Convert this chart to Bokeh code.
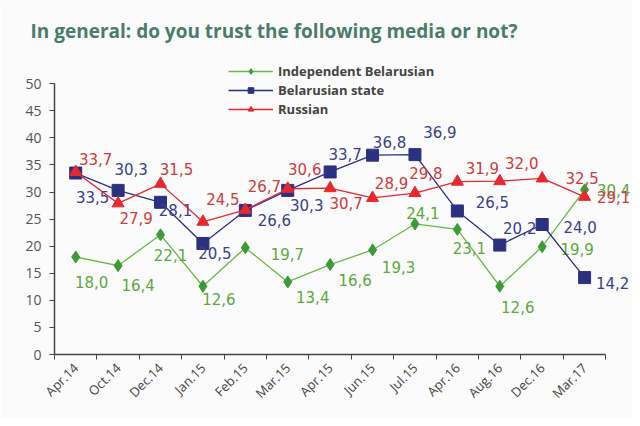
import math
from bokeh.plotting import figure
from bokeh.models import Range1d, FixedTicker, Legend, LegendItem, ColumnDataSource
from bokeh.core.properties import value
from bokeh.embed import file_html
from bokeh.resources import INLINE

categories = ["Apr.14", "Oct.14", "Dec.14", "Jan.15", "Feb.15", "Mar.15", "Apr.15",
              "Jun.15", "Jul.15", "Apr.16", "Aug.16", "Dec.16", "Mar.17"]
independent = [18.0, 16.4, 22.1, 12.6, 19.7, 13.4, 16.6, 19.3, 24.1, 23.1, 12.6, 19.9, 30.4]
state = [33.5, 30.3, 28.1, 20.5, 26.6, 30.3, 33.7, 36.8, 36.9, 26.5, 20.2, 24.0, 14.2]
russian = [33.7, 27.9, 31.5, 24.5, 26.7, 30.6, 30.7, 28.9, 29.8, 31.9, 32.0, 32.5, 29.1]
y_ticks = [0, 5, 10, 15, 20, 25, 30, 35, 40, 45, 50]

# label offsets (screen px, y down) - styling only
off_rus = [(20, -13), (18, 15), (16, -15), (20, -23), (19, -24), (17, -20), (16, 15),
           (19, -15), (11, -20), (25, -14), (22, -18), (40, 0), (29, 0)]
off_sta = [(17, 24), (13, -21), (15, 8), (12, 10), (29, 10), (19, 15), (15, -18),
           (17, -13), (25, -23), (35, -9), (20, -17), (38, 2), (28, 5)]
off_ind = [(16, 25), (20, 19), (10, 20), (16, 13), (42, 6), (25, 15), (25, 15),
           (26, 17), (8, -11), (12, 19), (18, 21), (35, 2), (29, 0)]

n = len(categories)
xs = [i + 0.5 for i in range(n)]

p = figure(width=632, height=418, output_backend="svg", toolbar_location=None,
           x_range=Range1d(0, 13.63), y_range=Range1d(0, 55.2),
           min_border_left=54, min_border_right=0, min_border_top=55, min_border_bottom=64,
           background_fill_color="#fbfbfb", border_fill_color="#fbfbfb")
p.outline_line_color = None
p.grid.visible = False

p.title.text = "In general: do you trust the following media or not?"
p.title.text_font = "Open Sans"
p.title.text_font_size = "19px"
p.title.text_font_style = "bold"
p.title.text_color = "#4a7c6c"
p.title.offset = -24
p.title.standoff = 24

# axes
p.xaxis.ticker = FixedTicker(ticks=xs, minor_ticks=list(range(n + 1)))
p.xaxis.bounds = (0, n)
p.xaxis.major_label_overrides = {x: c for x, c in zip(xs, categories)}
p.xaxis.major_tick_out = 0
p.xaxis.major_tick_in = 0
p.xaxis.minor_tick_out = 5
p.xaxis.minor_tick_in = 0
p.xaxis.major_label_orientation = math.pi / 4
p.xaxis.major_label_text_font = "Open Sans"
p.xaxis.major_label_text_font_size = "13px"
p.xaxis.major_label_text_color = "#444444"
p.xaxis.major_label_standoff = 6

p.yaxis.ticker = FixedTicker(ticks=y_ticks)
p.yaxis.bounds = (0, 50)
p.yaxis.major_tick_out = 5
p.yaxis.major_tick_in = 0
p.yaxis.minor_tick_out = 0
p.yaxis.minor_tick_in = 0
p.yaxis.major_label_text_font = "Open Sans"
p.yaxis.major_label_text_font_size = "14px"
p.yaxis.major_label_text_color = "#555555"
p.yaxis.major_label_standoff = 8
for ax in (p.xaxis, p.yaxis):
    ax.axis_line_color = "#444444"
    ax.axis_line_width = 1.5
    ax.major_tick_line_color = "#444444"
    ax.minor_tick_line_color = "#444444"

series = [
    ("Independent Belarusian", independent, "#66bb44", "#3d9a35", "#5aaa3c", "diamond", 12, off_ind),
    ("Belarusian state", state, "#2b2f84", "#2b3080", "#3a3f8f", "square", 12, off_sta),
    ("Russian", russian, "#e8282e", "#e8282e", "#d03a3a", "triangle", 12, off_rus),
]

items = []
for name, vals, lc, mc, tc, marker, size, offs in series:
    src = ColumnDataSource(dict(
        x=xs, y=vals,
        lbl=[f"{v:.1f}".replace(".", ",") for v in vals],
        dx=[o[0] for o in offs], dy=[o[1] for o in offs]))
    r1 = p.line("x", "y", source=src, line_color=lc, line_width=1.3)
    r2 = p.scatter("x", "y", source=src, marker=marker, size=size,
                   fill_color=mc, line_color=mc)
    p.text("x", "y", text="lbl", source=src, x_offset="dx", y_offset="dy",
           text_align="center", text_baseline="middle",
           text_font=value("DejaVu Sans"), text_font_size="15px", text_color=tc)
    items.append(LegendItem(label=name, renderers=[r1, r2]))

legend = Legend(items=items, location=(174, 236), margin=0,
                border_line_color=None, background_fill_alpha=0,
                label_text_font="Open Sans", label_text_font_size="13px",
                label_text_font_style="bold", label_text_color="#444444",
                glyph_width=45, glyph_height=14, label_height=14, spacing=1,
                padding=4)
p.add_layout(legend)

open("out.html", "w").write(file_html(p, INLINE))
